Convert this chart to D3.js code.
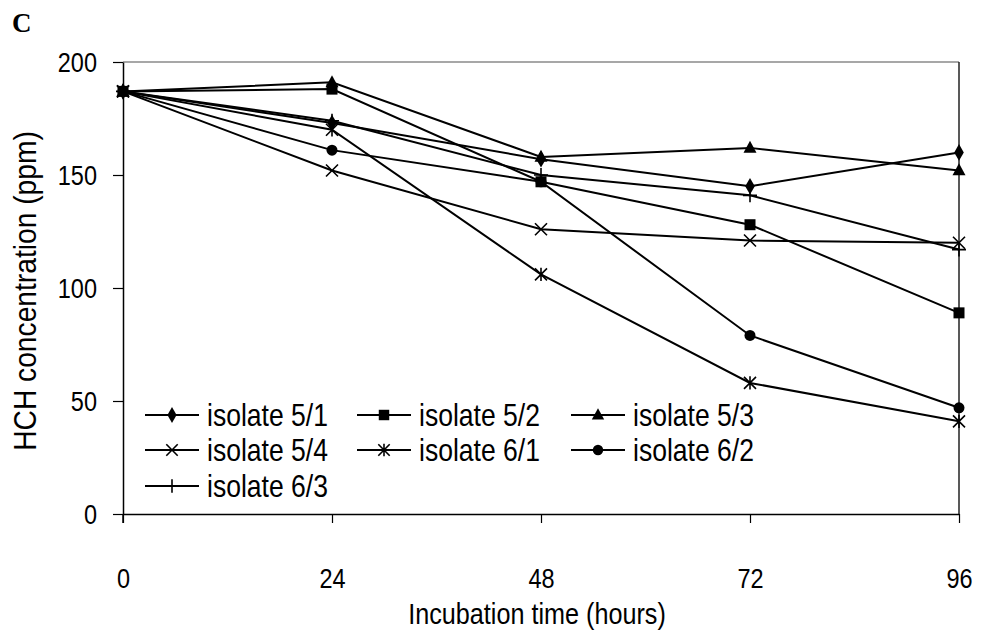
<!DOCTYPE html>
<html>
<head>
<meta charset="utf-8">
<script src="https://cdn.jsdelivr.net/npm/d3@7"></script>
<style>
html,body{margin:0;padding:0;background:#fff;}
svg{display:block;}
.t{font-family:"Liberation Sans Narrow","Arial Narrow","Liberation Sans",Arial,sans-serif;fill:#000;}
</style>
</head>
<body>
<svg id="c" width="981" height="641"></svg>
<script>
const hours = [0, 24, 48, 72, 96];
const yTicks = [0, 50, 100, 150, 200];
const seriesNames = ["isolate 5/1","isolate 5/2","isolate 5/3","isolate 5/4","isolate 6/1","isolate 6/2","isolate 6/3"];
const markers = ["diamond","square","triangle","x","asterisk","circle","plus"];
const iso51 = [187, 173, 157, 145, 160];
const iso52 = [187, 188, 147, 128, 89];
const iso53 = [187, 191, 158, 162, 152];
const iso54 = [187, 152, 126, 121, 120];
const iso61 = [187, 170, 106, 58, 41];
const iso62 = [187, 161, 147, 79, 47];
const iso63 = [187, 174, 150, 141, 117];
const allSeries = [iso51, iso52, iso53, iso54, iso61, iso62, iso63];

const SX = 0.84; // condensed text
const svg = d3.select("#c");
const m = {l:123, r:959, t:62, b:514};
const x = d3.scaleLinear().domain([0,96]).range([m.l, m.r]);
const y = d3.scaleLinear().domain([0,200]).range([m.b, m.t]);

// plot border (top grey, right dark)
svg.append("line").attr("x1",m.l).attr("x2",m.r).attr("y1",m.t).attr("y2",m.t)
  .attr("stroke","#8a8a8a").attr("stroke-width",1.5);
svg.append("line").attr("x1",m.r).attr("x2",m.r).attr("y1",m.t).attr("y2",m.b)
  .attr("stroke","#222").attr("stroke-width",1.5);

// axes
const ya = svg.append("g").attr("transform",`translate(${m.l},0)`)
  .call(d3.axisLeft(y).tickValues(yTicks).tickSize(10).tickSizeOuter(0));
const xa = svg.append("g").attr("transform",`translate(0,${m.b})`)
  .call(d3.axisBottom(x).tickValues(hours).tickSize(9).tickSizeOuter(0).tickPadding(45));
[ya, xa].forEach(g=>{
  g.select(".domain").attr("stroke","#000").attr("stroke-width",1.5);
  g.selectAll(".tick line").attr("stroke","#000").attr("stroke-width",1.2);
  g.selectAll("text").attr("class","t").attr("font-size",28).attr("fill","#000")
    .attr("transform",`scale(${SX},1)`);
});
ya.selectAll("text").attr("x",-26/SX).attr("dy","0.35em");
// extend y axis down to x tick depth
svg.append("line").attr("x1",m.l).attr("x2",m.l).attr("y1",m.b).attr("y2",m.b+9).attr("stroke","#000").attr("stroke-width",1.5);

// titles
svg.append("text").attr("class","t").attr("transform",`translate(537,624) scale(${SX},1)`)
  .attr("text-anchor","middle").attr("font-size",30).text("Incubation time (hours)");
svg.append("text").attr("class","t").attr("transform",`translate(36,291) rotate(-90) scale(0.91,1)`)
  .attr("text-anchor","middle").attr("font-size",31).text("HCH concentration (ppm)");
svg.append("text").attr("x",12).attr("y",32)
  .attr("font-family","'Liberation Serif','Times New Roman',serif").attr("font-weight","bold")
  .attr("font-size",27).text("C");

function drawMarker(g, type, cx, cy, s){
  const k = s || 1;
  if(type==="diamond"){
    g.append("path").attr("d",d3.symbol(d3.symbolDiamond, 80*k*k)()).attr("transform",`translate(${cx},${cy})`).attr("fill","#000");
  } else if(type==="square"){
    g.append("rect").attr("x",cx-5.5*k).attr("y",cy-5.5*k).attr("width",11*k).attr("height",11*k).attr("fill","#000");
  } else if(type==="triangle"){
    const h=12*k, w=13*k;
    g.append("path").attr("d",`M${cx},${cy-h*0.6}L${cx+w/2},${cy+h*0.4}L${cx-w/2},${cy+h*0.4}Z`).attr("fill","#000");
  } else if(type==="circle"){
    g.append("circle").attr("cx",cx).attr("cy",cy).attr("r",5.5*k).attr("fill","#000");
  } else if(type==="x"){
    const r=6*k;
    g.append("path").attr("d",`M${cx-r},${cy-r}L${cx+r},${cy+r}M${cx-r},${cy+r}L${cx+r},${cy-r}`).attr("stroke","#000").attr("stroke-width",1.6).attr("fill","none");
  } else if(type==="asterisk"){
    const r=6*k;
    g.append("path").attr("d",`M${cx-r},${cy-r}L${cx+r},${cy+r}M${cx-r},${cy+r}L${cx+r},${cy-r}M${cx},${cy-r*1.1}L${cx},${cy+r*1.1}`).attr("stroke","#000").attr("stroke-width",1.6).attr("fill","none");
  } else if(type==="plus"){
    const r=7*k;
    g.append("path").attr("d",`M${cx},${cy-r}L${cx},${cy+r}M${cx-r},${cy}L${cx+r},${cy}`).attr("stroke","#000").attr("stroke-width",1.6).attr("fill","none");
  }
}

const line = d3.line().x((d,i)=>x(hours[i])).y(d=>y(d));
const plot = svg.append("g");
allSeries.forEach((vals,si)=>{
  plot.append("path").datum(vals).attr("d",line).attr("fill","none").attr("stroke","#000").attr("stroke-width",2);
});
allSeries.forEach((vals,si)=>{
  vals.forEach((v,i)=>drawMarker(plot, markers[si], x(hours[i]), y(v)));
});

// legend
const legCols = [145, 357, 571];
const legRows = [415, 450, 486];
const lg = svg.append("g");
seriesNames.forEach((name,i)=>{
  const cx0 = legCols[i%3], cy0 = legRows[Math.floor(i/3)];
  lg.append("line").attr("x1",cx0).attr("x2",cx0+54).attr("y1",cy0).attr("y2",cy0).attr("stroke","#000").attr("stroke-width",2);
  drawMarker(lg, markers[i], cx0+27, cy0, 0.95);
  lg.append("text").attr("class","t").attr("transform",`translate(${cx0+62},${cy0}) scale(0.856,1)`)
    .attr("dy","0.36em").attr("font-size",31).text(name);
});
</script>
</body>
</html>
